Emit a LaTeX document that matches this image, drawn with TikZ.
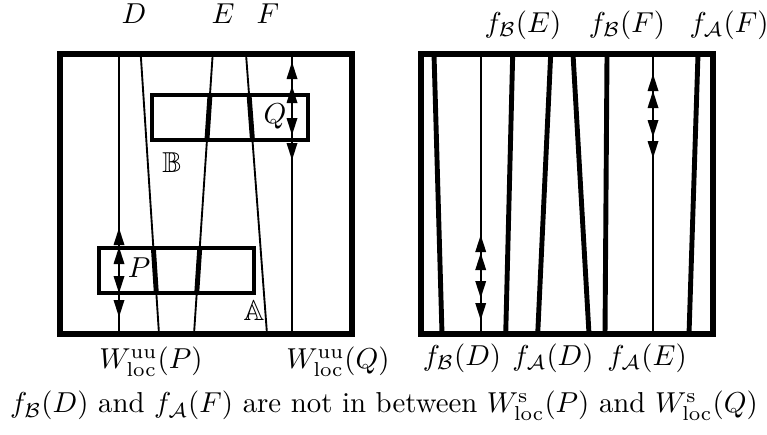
\documentclass[tikz,border=0pt]{standalone}
\usepackage{amssymb}
\begin{document}
\begin{tikzpicture}[x=0.347pt,y=-0.347pt]
\tikzset{
  frame/.style={line width=1.8pt},
  box/.style={line width=1.35pt},
  thin/.style={line width=0.65pt},
  heavy/.style={line width=1.7pt},
  tip/.style={fill=black},
  lbl/.style={inner sep=0pt}
}
\newcommand\uptip[2]{\fill[tip] (#1,#2) -- ++(-5.5,17) -- ++(11,0) -- cycle;}
\newcommand\dntip[2]{\fill[tip] (#1,#2) -- ++(-5.5,-17) -- ++(11,0) -- cycle;}
\useasboundingbox (0,0) rectangle (767,434);

% ---------- left panel ----------
\coordinate (Dt) at (140.7,54); \coordinate (Db) at (159,334);
\coordinate (Et) at (212.7,54); \coordinate (Eb) at (194,334);
\coordinate (Ft) at (246,54);   \coordinate (Fb) at (267,334);
\coordinate (Pt) at (119,54);   \coordinate (Pb) at (119,334);
\coordinate (Qt) at (292,54);   \coordinate (Qb) at (292,334);

\draw[thin] (Pt) -- (Pb);
\draw[thin] (Qt) -- (Qb);
\draw[thin] (Dt) -- (Db);
\draw[thin] (Et) -- (Eb);
\draw[thin] (Ft) -- (Fb);

% thick pieces inside the boxes
\begin{scope}
  \clip (99,248) rectangle (254,293);
  \draw[heavy] (Dt) -- (Db);
  \draw[heavy] (Et) -- (Eb);
\end{scope}
\begin{scope}
  \clip (151.7,95) rectangle (308,140);
  \draw[heavy] (Et) -- (Eb);
  \draw[heavy] (Ft) -- (Fb);
\end{scope}

\draw[box] (151.7,95) rectangle (308,140);
\draw[box] (99,248) rectangle (254,293);
\draw[frame] (60,54) rectangle (352,334);

% arrows along the unstable leaves
\uptip{292}{62} \uptip{292}{86} \dntip{292}{135} \dntip{292}{160}
\uptip{119}{228} \uptip{119}{247} \dntip{119}{293} \dntip{119}{317}

\node[lbl] (Q) at (275,116) {$Q$};
\node[lbl] (P) at (139,268) {$P$};
\node[lbl] (BB) at (172,163) {$\mathbb{B}$};
\node[lbl] (AA) at (254,311) {$\mathbb{A}$};

\node[lbl] (D) at (134,14) {$D$};
\node[lbl] (E) at (223,14) {$E$};
\node[lbl] (F) at (268,14) {$F$};

\node[lbl] (WP) at (151,362) {$W^{\mathrm{uu}}_{\mathrm{loc}}(P)$};
\node[lbl] (WQ) at (338,362) {$W^{\mathrm{uu}}_{\mathrm{loc}}(Q)$};

% ---------- right panel ----------
\draw[heavy] (434,54) -- (442,334);
\draw[thin] (480.7,54) -- (480.7,334);
\draw[heavy] (512.7,54) -- (505.7,334);
\draw[heavy] (550.7,54) -- (537.7,334);
\draw[heavy] (573,54) -- (589,334);
\draw[heavy] (607,54) -- (605,334);
\draw[thin] (653,54) -- (653,334);
\draw[heavy] (698,54) -- (689,334);
\draw[frame] (421,54) rectangle (713,334);

\uptip{653}{74} \uptip{653}{91} \dntip{653}{137} \dntip{653}{158}
\uptip{480.7}{235} \uptip{480.7}{253} \dntip{480.7}{298} \dntip{480.7}{320}

\node[lbl] (fBE) at (523,25) {$f_{\mathcal{B}}(E)$};
\node[lbl] (fBF) at (627,25) {$f_{\mathcal{B}}(F)$};
\node[lbl] (fAF) at (729,25) {$f_{\mathcal{A}}(F)$};
\node[lbl] (fBD) at (462,358) {$f_{\mathcal{B}}(D)$};
\node[lbl] (fAD) at (553,358) {$f_{\mathcal{A}}(D)$};
\node[lbl] (fAE) at (647,358) {$f_{\mathcal{A}}(E)$};

\node[lbl] (cap) at (384,406) {$f_{\mathcal{B}}(D)$ and $f_{\mathcal{A}}(F)$ are not in between $W^{\mathrm{s}}_{\mathrm{loc}}(P)$ and $W^{\mathrm{s}}_{\mathrm{loc}}(Q)$};
\end{tikzpicture}
\end{document}
